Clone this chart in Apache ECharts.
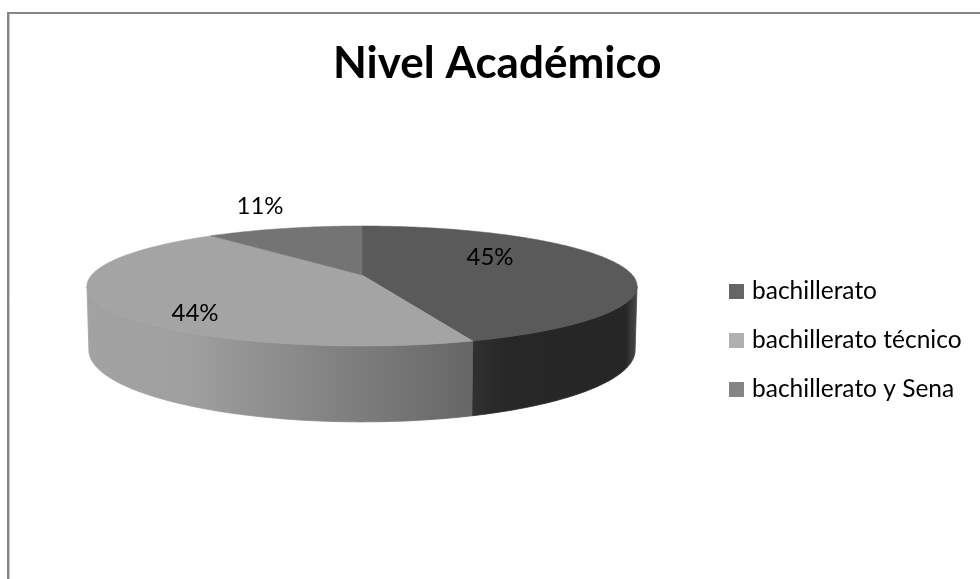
<!DOCTYPE html>
<html><head><meta charset="utf-8">
<script src="https://cdn.jsdelivr.net/npm/echarts@6/dist/echarts.min.js"></script>
<style>html,body{margin:0;padding:0;background:#fff}#c{width:980px;height:579px}</style>
</head><body><div id="c"></div>
<script>
var categories = ['bachillerato', 'bachillerato técnico', 'bachillerato y Sena'];
var values = [44.5, 44.5, 11];
var labels = ['45%', '44%', '11%'];
var topColors = ['#5a5a5a', '#a4a4a4', '#747474'];
var legendColors = ['#666666', '#b0b0b0', '#858585'];

var CX = 362, CY = 275, R = 270.4, S = 58, K = 0.183, D = 62;
var labelPos = [[490, 257], [195, 313], [260, 206]];
var sideFill = [
  {type:'linear',x:473,y:0,x2:637,y2:0,global:true,colorStops:[{offset:0,color:'#303030'},{offset:0.2,color:'#272727'},{offset:0.93,color:'#262626'},{offset:1,color:'#4a4a4a'}]},
  {type:'linear',x:87,y:0,x2:473,y2:0,global:true,colorStops:[{offset:0,color:'#a2a2a2'},{offset:0.25,color:'#a0a0a0'},{offset:1,color:'#666666'}]},
  null
];
function project(deg, lower) {
  var t = deg * Math.PI / 180, u = Math.sin(t), v = -Math.cos(t), w = 1 - K * v;
  return [CX + R * u / w * (lower ? 0.993 : 1), CY + S * v / w + (lower ? D / w : 0)];
}
var total = values.reduce(function (a, b) { return a + b; }, 0);
var silhouetteR = Math.acos(-K) * 180 / Math.PI, silhouetteL = 360 - silhouetteR;

function makeRender(idx) {
  return function (params, api) {
    var start = 0;
    for (var i = 0; i < idx; i++) start += values[i];
    var a0 = start / total * 360, a1 = a0 + api.value(0) / total * 360;
    var children = [];
    var sa = Math.max(a0, silhouetteR), sb = Math.min(a1, silhouetteL);
    if (sideFill[idx] && sb > sa) {
      var up = [], low = [];
      for (var d = sa; d < sb; d += 1) { up.push(project(d)); low.push(project(d, true)); }
      up.push(project(sb)); low.push(project(sb, true));
      children.push({type:'polygon', shape:{points: up.concat(low.reverse())},
        style:{fill: sideFill[idx], stroke: sideFill[idx], lineWidth: 0.8}, z2: 1});
    }
    var pts = [[CX, CY]];
    for (var e = a0; e < a1; e += 1) pts.push(project(e));
    pts.push(project(a1));
    children.push({type:'polygon', shape:{points: pts},
      style:{fill: topColors[idx], stroke: topColors[idx], lineWidth: 0.5}, z2: 2});
    children.push({type:'text', x: labelPos[idx][0], y: labelPos[idx][1], z2: 3,
      style:{text: labels[idx], fill:'#000', font:'24px Lato', align:'center', verticalAlign:'middle'}});
    return {type:'group', children: children};
  };
}
var chart = echarts.init(document.getElementById('c'), null, {renderer:'canvas'});
chart.setOption({
  animation: false,
  backgroundColor: '#fff',
  title: {text:'Nivel Académico', left: 333, top: 42, padding: 0,
    textStyle:{fontFamily:'Lato', fontWeight:'bold', fontSize:44, color:'#000'}},
  legend: {orient:'vertical', left:729, top:279, itemWidth:15, itemHeight:15, itemGap:24, padding:0,
    icon:'rect', data: categories, selectedMode:false,
    textStyle:{fontFamily:'Lato', fontSize:24.5, color:'#000', padding:[0,0,0,3]}},
  graphic: [
    {type:'line', shape:{x1:8,y1:13,x2:980,y2:13}, style:{stroke:'#868686', lineWidth:2}, silent:true},
    {type:'line', shape:{x1:8,y1:12,x2:8,y2:579}, style:{stroke:'#868686', lineWidth:2}, silent:true},
    {type:'line', shape:{x1:9.5,y1:14,x2:9.5,y2:579}, style:{stroke:'#c4c4c4', lineWidth:1}, silent:true}
  ],
  series: categories.map(function (name, i) {
    return {type:'custom', name:name, coordinateSystem:'none', silent:true,
      itemStyle:{color: legendColors[i]}, renderItem: makeRender(i),
      data:[[values[i]]], encode:{value:0}};
  })
});
</script></body></html>
